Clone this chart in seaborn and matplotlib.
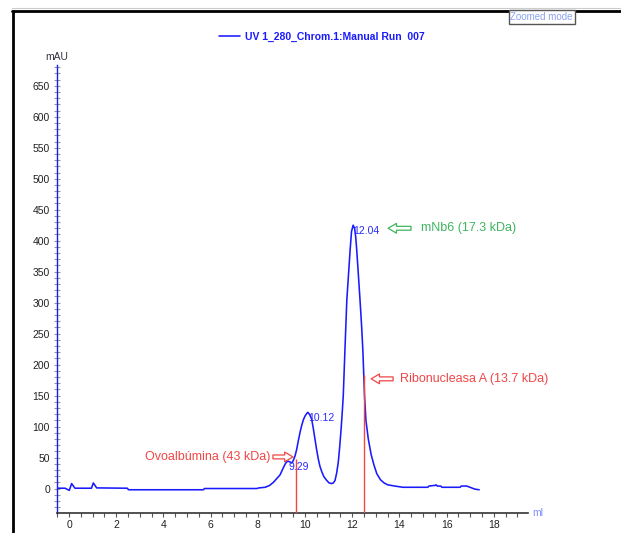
import matplotlib
matplotlib.use("Agg")
import matplotlib.pyplot as plt
from matplotlib.lines import Line2D
from matplotlib.ticker import MultipleLocator
import numpy as np
import pandas as pd
import seaborn as sns

# UV 280 nm trace of the size-exclusion run (elution volume in ml, absorbance in mAU)
volume_ml = [
    -0.52, -0.17, 0.01, 0.11, 0.25, 0.95, 1.03, 1.17, 2.47, 2.52, 5.69, 5.74,
    7.95, 8.05, 8.31, 8.5, 8.66, 8.8, 8.94, 9.05, 9.15, 9.22, 9.29, 9.36, 9.44,
    9.5, 9.58, 9.65, 9.72, 9.79, 9.86, 9.93, 10.0, 10.07, 10.12, 10.2, 10.28,
    10.35, 10.42, 10.49, 10.56, 10.63, 10.71, 10.8, 10.92, 11.02, 11.13, 11.2,
    11.27, 11.34, 11.41, 11.47, 11.53, 11.58, 11.62, 11.69, 11.77, 11.85, 11.91,
    11.97, 12.04, 12.1, 12.15, 12.19, 12.26, 12.33, 12.4, 12.45, 12.52, 12.58,
    12.68, 12.8, 12.92, 13.04, 13.2, 13.35, 13.5, 13.8, 14.15, 15.2, 15.25,
    15.5, 15.55, 15.6, 15.75, 15.8, 16.57, 16.62, 16.85, 16.99, 17.2, 17.38,
]
absorbance_mau = [
    0.5, 0.5, -3, 8, 0.5, 0.5, 9, 1, 0.5, -2, -2, 0,
    0, 1, 2, 5, 10, 16, 22, 31, 39, 43, 44, 43, 41,
    45, 53, 64, 78, 91, 102, 111, 117, 121, 123, 119, 112,
    97, 80, 63, 48, 36, 27, 19, 13, 9, 8, 9,
    13, 25, 43, 68, 97, 125, 150, 223, 304, 350, 385,
    415, 425, 420, 405, 385, 345, 304, 260, 223, 150, 110,
    80, 55, 38, 24, 14, 9, 6, 4, 2, 2, 4,
    5, 6, 4, 4, 2, 2, 4, 4, 2, -1, -2,
]

# Peak retention volumes reported by the software and their heights
peak_ml = [9.29, 10.12, 12.04]
peak_mau = [44, 123, 425]
peak_labels = ["9.29", "10.12", "12.04"]

# Calibration standards (marker lines) and the sample protein
standard_names = ["Ovoalbúmina (43 kDa)", "Ribonucleasa A (13.7 kDa)"]
standard_ml = [9.62, 12.48]
standard_line_top = [48, 183]
sample_name = "mNb6 (17.3 kDa)"

run_label = "UV 1_280_Chrom.1:Manual Run  007"

x_ticks = list(range(0, 20, 2))
y_ticks = list(range(0, 700, 50))

df = pd.DataFrame({"ml": volume_ml, "mAU": absorbance_mau})

sns.set_style("white")
plt.rcParams["font.family"] = ["Liberation Sans Narrow", "Liberation Sans", "DejaVu Sans"]

W, H = 621, 533
fig = plt.figure(figsize=(W / 100, H / 100), dpi=100)
ax = fig.add_axes([57 / W, 1 - 513 / H, (528.3 - 57) / W, (513 - 65) / H])

trace_blue = "#1a1aff"
marker_red = "#f04646"
sample_green = "#3fb560"

sns.lineplot(data=df, x="ml", y="mAU", ax=ax, color=trace_blue, lw=1.15,
             estimator=None, label=run_label, legend=True)

ax.set_xlim(-0.51, 19.46)
ax.set_ylim(-39.5, 683.5)
ax.set_xlabel("")
ax.set_ylabel("")

# axes styling
for side in ("top", "right"):
    ax.spines[side].set_visible(False)
ax.spines["left"].set_color(trace_blue)
ax.spines["left"].set_linewidth(1.0)
ax.spines["bottom"].set_color("#333333")
ax.spines["bottom"].set_linewidth(1.2)

ax.set_xticks(x_ticks)
ax.xaxis.set_minor_locator(MultipleLocator(0.5))
ax.set_yticks(y_ticks)
ax.yaxis.set_minor_locator(MultipleLocator(10))
ax.tick_params(axis="x", which="both", direction="out", length=3, width=0.8,
               color="#555555", labelsize=7.5, labelcolor="#222222", pad=2,
               bottom=True)
ax.tick_params(axis="y", which="both", direction="inout", length=4, width=0.8,
               color="#999999", labelsize=7.5, labelcolor="#222222", pad=3,
               left=True)

# standard marker lines
ax.vlines(standard_ml, ymin=-39.5, ymax=standard_line_top, color=marker_red, lw=1.0, zorder=3)

# peak retention labels
for px, py, lab in zip(peak_ml, peak_mau, peak_labels):
    ax.annotate(lab, xy=(px, py), xytext=(0, -4), textcoords="offset points",
                ha="left", va="center", fontsize=7.5, color="#2a2aff", zorder=4)

# hollow block arrows with names
arrow_style = "simple,head_length=6,head_width=7,tail_width=2.8"


def hollow_arrow(tail, tip, color):
    ax.annotate("", xy=tip, xytext=tail,
                arrowprops=dict(arrowstyle=arrow_style, mutation_scale=1,
                                fc="white", ec=color, lw=0.9,
                                shrinkA=0, shrinkB=0), zorder=5)


label_font = dict(fontsize=9, family=["Liberation Sans", "DejaVu Sans"])

hollow_arrow((8.64, 51), (9.49, 51), marker_red)
ax.text(8.52, 51, standard_names[0], ha="right", va="center", color=marker_red, **label_font)

hollow_arrow((13.73, 177), (12.8, 177), marker_red)
ax.text(14.03, 177, standard_names[1], ha="left", va="center", color=marker_red, **label_font)

hollow_arrow((14.49, 420), (13.52, 420), sample_green)
ax.text(14.92, 420, sample_name, ha="left", va="center", color=sample_green, **label_font)

# legend above the plot
leg = ax.legend(loc="center", bbox_to_anchor=(322 / W, 1 - 37 / H), bbox_transform=fig.transFigure,
                frameon=False, handlelength=2.0, handletextpad=0.5, borderpad=0,
                prop=dict(size=7.5, weight="bold", family=["Liberation Sans Narrow", "Liberation Sans", "DejaVu Sans"]))
for t in leg.get_texts():
    t.set_color(trace_blue)

# axis unit labels
fig.text(56.5 / W, 1 - 57 / H, "mAU", ha="center", va="center", fontsize=7.5, color="#333344")
fig.text(532 / W, 1 - 513 / H, "ml", ha="left", va="center", fontsize=7.5, color="#7f8cff")

# window frame
fig.add_artist(Line2D([12 / W, 1.0], [1 - 10.5 / H, 1 - 10.5 / H], color="black", lw=2.0,
                      transform=fig.transFigure))
fig.add_artist(Line2D([13 / W, 13 / W], [0.0, 1 - 10.5 / H], color="black", lw=2.0,
                      transform=fig.transFigure))
fig.add_artist(Line2D([12 / W, 1.0], [1 - 8 / H, 1 - 8 / H], color="#cccccc", lw=0.8,
                      transform=fig.transFigure))

fig.text(541.5 / W, 1 - 17 / H, "Zoomed mode", ha="center", va="center", fontsize=7,
         color="#8aa2f2",
         bbox=dict(boxstyle="square,pad=0.18", fc="white", ec="#555555", lw=1.0))

fig.savefig("out.png", dpi=100)
